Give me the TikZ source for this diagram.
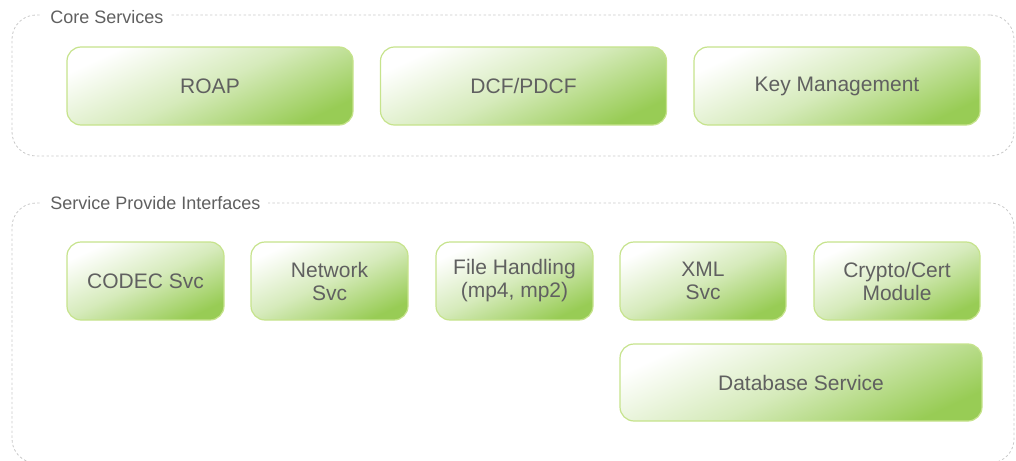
\documentclass[tikz,border=0pt]{standalone}
\usepackage{fontspec}
\setmainfont{Liberation Sans}
\definecolor{boxgreen}{HTML}{98CC55}
\definecolor{boxline}{HTML}{C6E38C}
\definecolor{grouplime}{HTML}{C8C8C8}
\definecolor{textgray}{HTML}{606060}
\tikzset{
    svcbox/.style={rectangle, rounded corners=7pt, draw=boxline, line width=0.6pt,
        top color=white, bottom color=boxgreen, middle color=white!60!boxgreen,
        shading angle=25, text=textgray, font=\fontsize{10.5}{11.5}\selectfont,
        align=center, inner sep=2pt},
    groupbox/.style={rectangle, rounded corners=12pt, draw=grouplime, line width=0.4pt,
        dash pattern=on 1.2pt off 1.2pt},
    grouplabel/.style={anchor=west, fill=white, text=textgray, inner xsep=4pt,
        font=\fontsize{9}{10}\selectfont}
}

\begin{document}
\begin{tikzpicture}[x=0.5pt, y=-0.5pt]
    \useasboundingbox (0,0) rectangle (1016,460);

    % groups
    \node[groupbox, minimum width=501pt, minimum height=70.5pt] (core) at (513,85.5) {};
    \node[groupbox, minimum width=501pt, minimum height=130pt] (spi) at (513,333) {};
    \node[grouplabel] (corelabel) at (42,17) {Core Services};
    \node[grouplabel] (spilabel) at (42,203) {Service Provide Interfaces};

    % core services
    \node[svcbox, minimum width=143pt, minimum height=39pt] (roap) at (210,86) {ROAP};
    \node[svcbox, minimum width=143pt, minimum height=39pt] (dcf) at (523.5,86) {DCF/PDCF};
    \node[svcbox, minimum width=143pt, minimum height=39pt] (keymgmt) at (837,86) {Key Management};

    % service provider interfaces
    \node[svcbox, minimum width=78.5pt, minimum height=39pt] (codec) at (145.5,281) {CODEC Svc};
    \node[svcbox, minimum width=78.5pt, minimum height=39pt] (network) at (329.5,281) {Network\\Svc};
    \node[svcbox, minimum width=78.5pt, minimum height=39pt] (filehandling) at (514.5,281) {File Handling\\(mp4, mp2)};
    \node[svcbox, minimum width=83pt, minimum height=39pt] (xml) at (703,281) {XML\\Svc};
    \node[svcbox, minimum width=83pt, minimum height=39pt] (crypto) at (897,281) {Crypto/Cert\\Module};
    \node[svcbox, minimum width=181pt, minimum height=38.5pt] (database) at (801,382.5) {Database Service};
\end{tikzpicture}
\end{document}
